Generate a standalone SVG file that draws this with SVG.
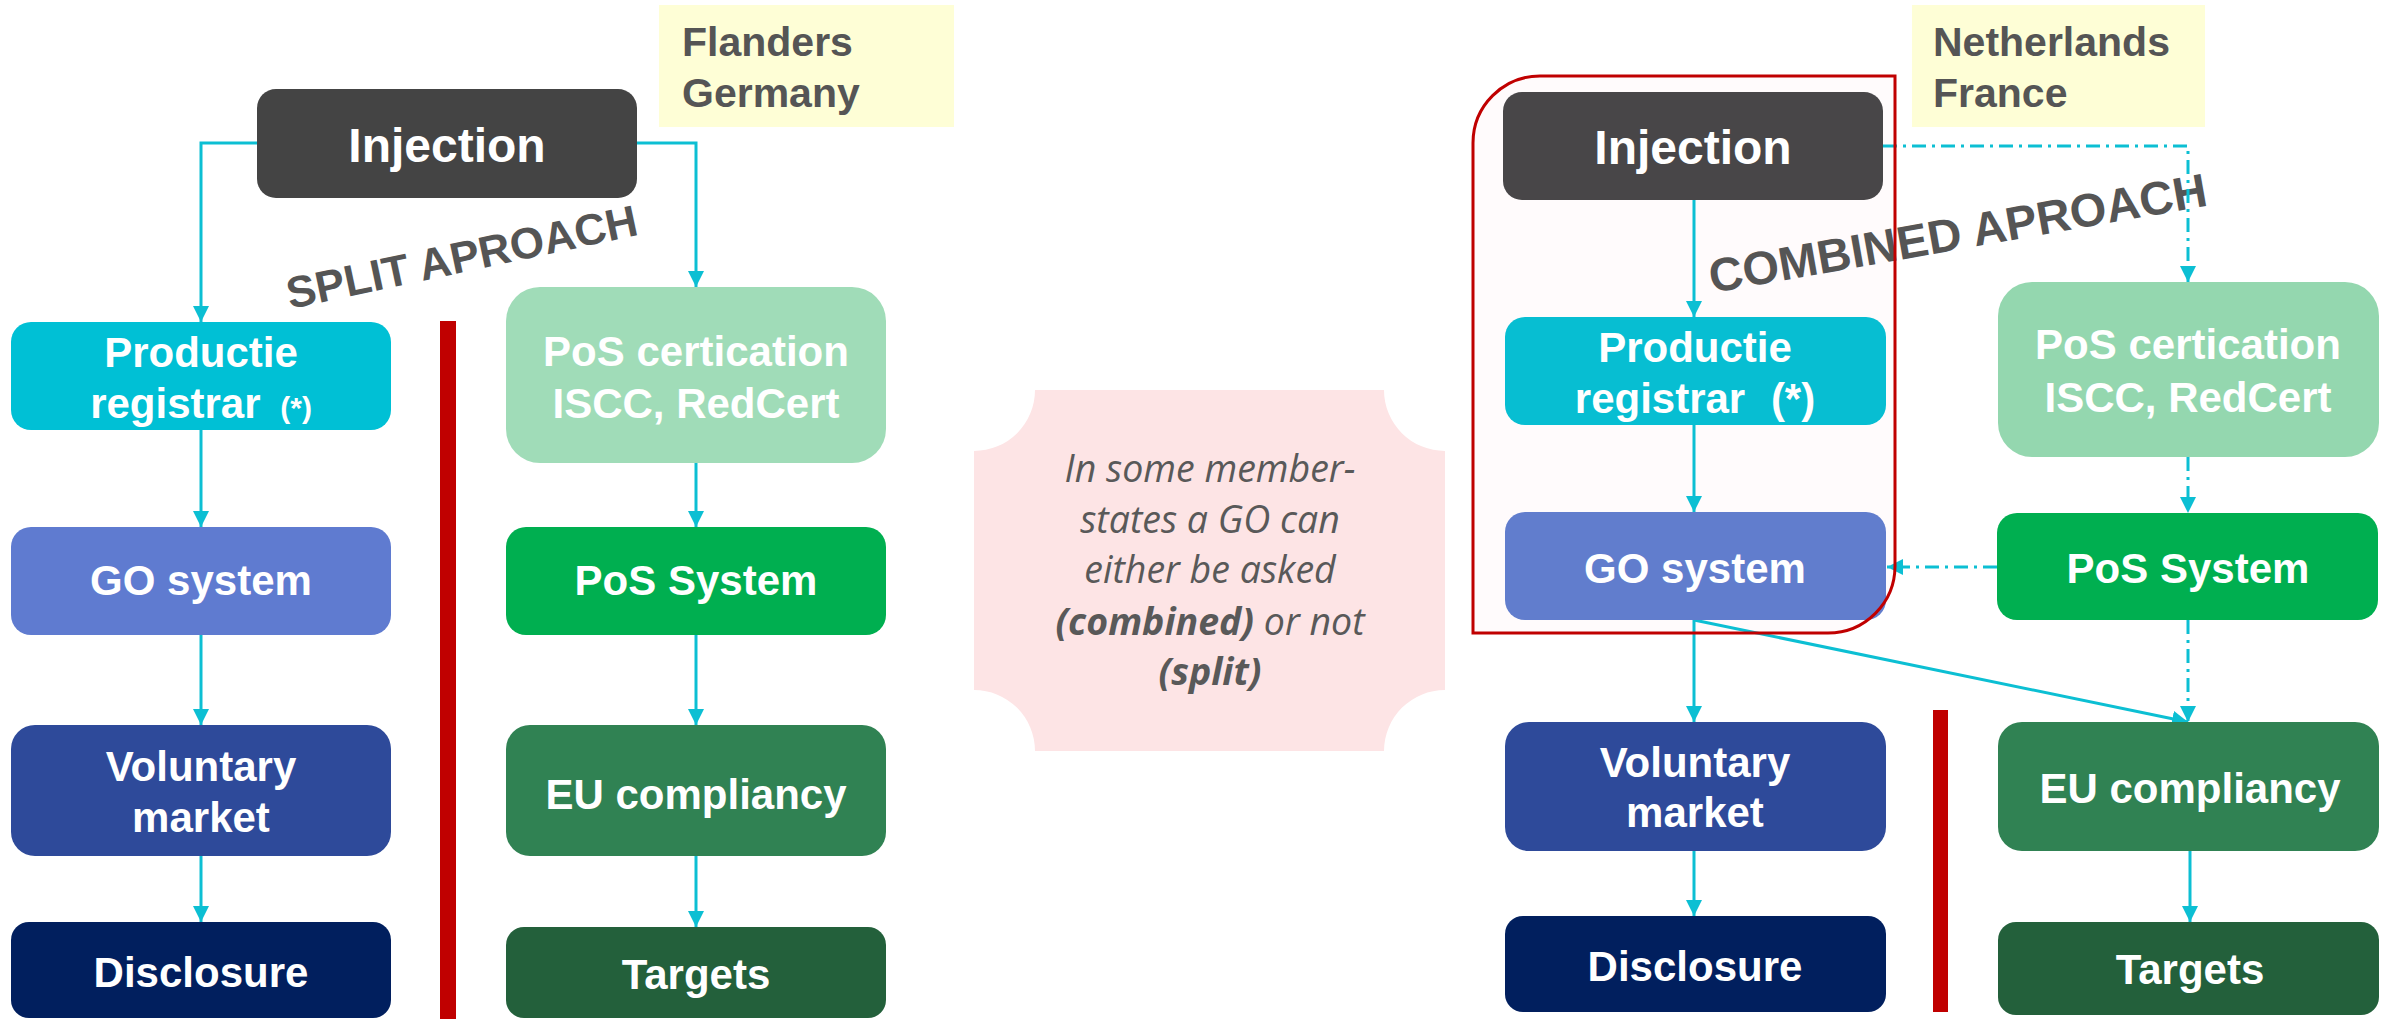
<svg xmlns="http://www.w3.org/2000/svg" width="2387" height="1019" viewBox="0 0 2387 1019">
<defs>
<style>
.lbl{fill:#fff;font-family:"Liberation Sans",Arial,sans-serif;font-weight:700;font-size:42px;text-anchor:middle}
.big{font-size:48px}
.tag{fill:#555;font-family:"Liberation Sans",Arial,sans-serif;font-weight:700;font-size:41px}
.rot{fill:#555;font-family:"Liberation Sans",Arial,sans-serif;font-weight:700}
.note{fill:#595959;font-family:"Open Sans","Liberation Sans",sans-serif;font-style:italic;font-size:37.5px;text-anchor:middle}
.c{stroke:#0CBFD3;stroke-width:3;fill:none;marker-end:url(#arr)}
.dd{stroke-dasharray:14 6 3 6}
.bar{fill:#C00000}
</style>
<marker id="arr" viewBox="0 0 16 16" refX="16" refY="8" markerWidth="16" markerHeight="16" markerUnits="userSpaceOnUse" orient="auto">
<path d="M0,0 L16,8 L0,16 z" fill="#0CBFD3"/>
</marker>
</defs>
<rect width="2387" height="1019" fill="#fff"/>

<!-- combined container fill -->
<path id="container-fill" d="M1473,633 L1473,143 A67,67 0 0 1 1540,76 L1895,76 L1895,566 A67,67 0 0 1 1828,633 Z" fill="#FFFBFC"/>

<!-- tags -->
<g id="tag-left">
<rect x="659" y="5" width="295" height="122" fill="#FEFED6"/>
<text class="tag" x="682" y="56">Flanders</text>
<text class="tag" x="682" y="107">Germany</text>
</g>
<g id="tag-right">
<rect x="1912" y="5" width="293" height="122" fill="#FEFED6"/>
<text class="tag" x="1933" y="56">Netherlands</text>
<text class="tag" x="1933" y="107">France</text>
</g>

<!-- rotated titles -->
<text id="split-title" class="rot" font-size="44" x="290" y="309" transform="rotate(-12 290 309)">SPLIT APROACH</text>
<text id="combined-title" class="rot" font-size="47" x="1712" y="293" transform="rotate(-10 1712 293)">COMBINED APROACH</text>

<!-- red bars -->
<rect id="bar-left" class="bar" x="440" y="321" width="16" height="698"/>
<rect id="bar-right" class="bar" x="1933" y="710" width="15" height="302"/>

<!-- note -->
<g id="note">
<path d="M1035,390 L1384,390 A61,61 0 0 0 1445,451 L1445,690 A61,61 0 0 0 1384,751 L1035,751 A61,61 0 0 0 974,690 L974,451 A61,61 0 0 0 1035,390 Z" fill="#FDE4E5"/>
<text class="note" x="1210" y="482">In some member-</text>
<text class="note" x="1210" y="533">states a GO can</text>
<text class="note" x="1210" y="583">either be asked</text>
<text class="note" x="1210" y="635"><tspan font-weight="700">(combined)</tspan> or not</text>
<text class="note" x="1210" y="685" font-weight="700">(split)</text>
</g>

<!-- connectors -->
<g id="connectors">
<path class="c" d="M257,143 H201 V322"/>
<path class="c" d="M637,143 H696 V287"/>
<path class="c" d="M201,430 V527"/>
<path class="c" d="M201,635 V725"/>
<path class="c" d="M201,856 V922"/>
<path class="c" d="M696,463 V527"/>
<path class="c" d="M696,635 V725"/>
<path class="c" d="M696,856 V927"/>

<path class="c dd" d="M1883,146 H2188 V282"/>
<path class="c" d="M1694,200 V317"/>
<path class="c" d="M1694,425 V512"/>
<path class="c dd" d="M2188,457 V513"/>
<path class="c dd" d="M1997,567 H1887"/>
<path class="c" d="M1694,620 V722"/>
<path class="c" d="M1694,620 L2188,722"/>
<path class="c dd" d="M2188,620 V722"/>
<path class="c" d="M1694,851 V916"/>
<path class="c" d="M2190,851 V922"/>
</g>

<!-- left nodes -->
<g id="injection-left"><rect x="257" y="89" width="380" height="109" rx="19" fill="#444444"/><text class="lbl big" x="447" y="162">Injection</text></g>
<g id="productie-left"><rect x="11" y="322" width="380" height="108" rx="20" fill="#00C0D5"/><text class="lbl" x="201" y="367">Productie</text><text class="lbl" x="201" y="418">registrar <tspan font-size="30" dx="8">(*)</tspan></text></g>
<g id="go-left"><rect x="11" y="527" width="380" height="108" rx="20" fill="#5F7BD0"/><text class="lbl" x="201" y="595">GO system</text></g>
<g id="voluntary-left"><rect x="11" y="725" width="380" height="131" rx="24" fill="#2E4A9A"/><text class="lbl" x="201" y="781">Voluntary</text><text class="lbl" x="201" y="832">market</text></g>
<g id="disclosure-left"><rect x="11" y="922" width="380" height="96" rx="18" fill="#011F5E"/><text class="lbl" x="201" y="987">Disclosure</text></g>
<g id="poscert-left"><rect x="506" y="287" width="380" height="176" rx="34" fill="#A0DCB8"/><text class="lbl" x="696" y="366">PoS certication</text><text class="lbl" x="696" y="418">ISCC, RedCert</text></g>
<g id="possystem-left"><rect x="506" y="527" width="380" height="108" rx="20" fill="#00AF50"/><text class="lbl" x="696" y="595">PoS System</text></g>
<g id="eu-left"><rect x="506" y="725" width="380" height="131" rx="24" fill="#308253"/><text class="lbl" x="696" y="809">EU compliancy</text></g>
<g id="targets-left"><rect x="506" y="927" width="380" height="91" rx="18" fill="#23603B"/><text class="lbl" x="696" y="989">Targets</text></g>

<!-- right nodes -->
<g id="injection-right"><rect x="1503" y="92" width="380" height="108" rx="19" fill="#484648"/><text class="lbl big" x="1693" y="164">Injection</text></g>
<g id="productie-right"><rect x="1505" y="317" width="381" height="108" rx="20" fill="#07BED2"/><text class="lbl" x="1695" y="362">Productie</text><text class="lbl" x="1695" y="413">registrar <tspan dx="14">(*)</tspan></text></g>
<g id="go-right"><rect x="1505" y="512" width="381" height="108" rx="20" fill="#617DCD"/><text class="lbl" x="1695" y="583">GO system</text></g>
<g id="voluntary-right"><rect x="1505" y="722" width="381" height="129" rx="24" fill="#2E4A9A"/><text class="lbl" x="1695" y="777">Voluntary</text><text class="lbl" x="1695" y="827">market</text></g>
<g id="disclosure-right"><rect x="1505" y="916" width="381" height="96" rx="18" fill="#011F5E"/><text class="lbl" x="1695" y="981">Disclosure</text></g>
<g id="poscert-right"><rect x="1998" y="282" width="381" height="175" rx="34" fill="#94D7AF"/><text class="lbl" x="2188" y="359">PoS certication</text><text class="lbl" x="2188" y="412">ISCC, RedCert</text></g>
<g id="possystem-right"><rect x="1997" y="513" width="381" height="107" rx="20" fill="#00AF50"/><text class="lbl" x="2188" y="583">PoS System</text></g>
<g id="eu-right"><rect x="1998" y="722" width="381" height="129" rx="24" fill="#308253"/><text class="lbl" x="2190" y="803">EU compliancy</text></g>
<g id="targets-right"><rect x="1998" y="922" width="381" height="93" rx="18" fill="#23603B"/><text class="lbl" x="2190" y="984">Targets</text></g>

<!-- combined container outline -->
<path id="container" d="M1473,633 L1473,143 A67,67 0 0 1 1540,76 L1895,76 L1895,566 A67,67 0 0 1 1828,633 Z" fill="none" stroke="#C00000" stroke-width="3"/>
</svg>
